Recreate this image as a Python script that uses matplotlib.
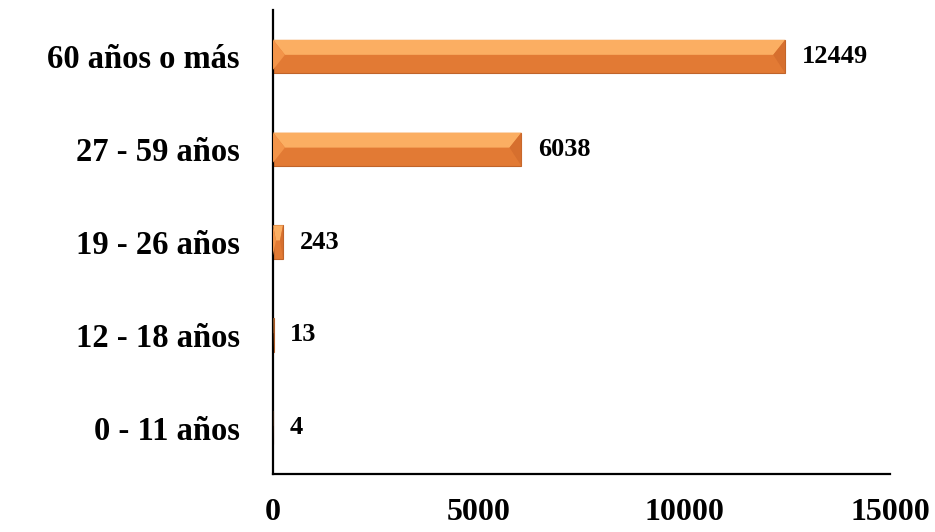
import matplotlib.pyplot as plt
from matplotlib.patches import Polygon

plt.rc('font', family='Liberation Serif', weight='bold')

categories = ['0 - 11 años', '12 - 18 años', '19 - 26 años', '27 - 59 años', '60 años o más']
values = [4, 13, 243, 6038, 12449]
xticks = [0, 5000, 10000, 15000]

fig = plt.figure(figsize=(9.35, 5.32), dpi=100)
ax = fig.add_axes([0.292, 0.109, 0.660, 0.872])

ypos = list(range(len(categories)))
h = 0.36
base_col = '#E27A34'
top_col = '#FBAE62'
edge_col = '#C0642A'

ax.barh(ypos, values, height=h, color=base_col, edgecolor=edge_col, linewidth=0.8, zorder=2)

# bevelled look: light upper face and lit left end
for y, v in zip(ypos, values):
    if v <= 0:
        continue
    b = min(290, v * 0.3)
    top = y + h / 2
    mid = y + h * 0.05
    ax.add_patch(Polygon([(0, top), (v, top), (v - b, mid), (b, mid)],
                         closed=True, facecolor=top_col, edgecolor='none', zorder=3))
    ax.add_patch(Polygon([(0, top), (b, mid), (0, y - h / 2 + h * 0.1)],
                         closed=True, facecolor='#F39449', edgecolor='none', zorder=3))
    ax.add_patch(Polygon([(v, top), (v - b, mid), (v, y - h / 2)],
                         closed=True, facecolor='#D66F2E', edgecolor='none', zorder=3))
    ax.text(v + 400, y, str(v), va='center', ha='left', fontsize=19, fontweight='bold', zorder=4)

ax.set_xlim(0, 15000)
ax.set_ylim(-0.5, 4.5)
ax.set_yticks(ypos)
ax.set_yticklabels(categories, fontsize=23.5)
ax.set_xticks(xticks)
ax.set_xticklabels([str(t) for t in xticks], fontsize=23)
ax.tick_params(axis='y', length=0, pad=24)
ax.tick_params(axis='x', length=0, pad=17)

for side in ['top', 'right']:
    ax.spines[side].set_visible(False)
for side in ['left', 'bottom']:
    ax.spines[side].set_linewidth(1.6)
    ax.spines[side].set_color('black')

plt.savefig('out.png', dpi=100)
